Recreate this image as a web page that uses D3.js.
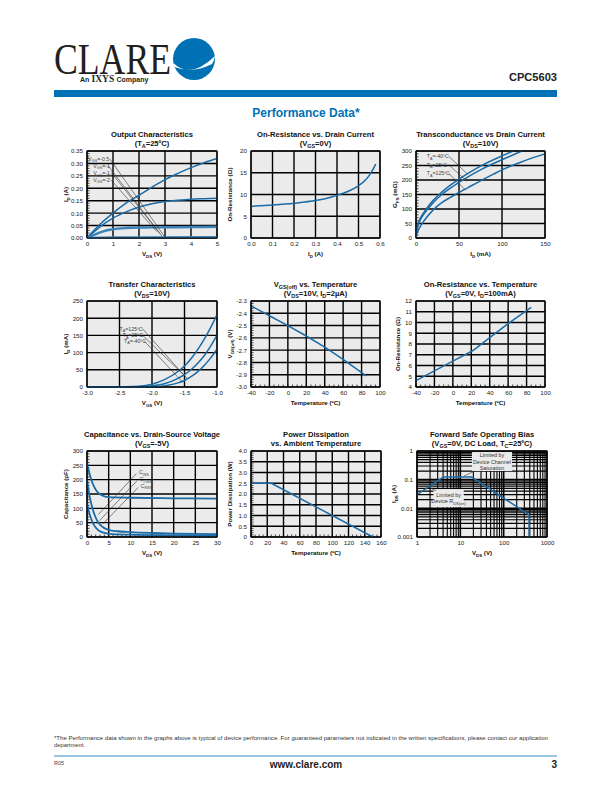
<!DOCTYPE html>
<html><head><meta charset="utf-8">
<script src="https://cdn.jsdelivr.net/npm/d3@7"></script>
<style>body{margin:0;background:#fff}svg{display:block}</style>
</head><body><svg id="c" width="612" height="792" font-family="Arial, 'Liberation Sans', Helvetica, sans-serif"></svg>
<script>
// ================= DATA =================
// 1. Output characteristics
const outXTicks=[0,1,2,3,4,5];
const outYTicks=[0,0.05,0.10,0.15,0.20,0.25,0.30,0.35];
const outYLabels=["0.00","0.05","0.10","0.15","0.20","0.25","0.30","0.35"];
const outVgsM05=[[0,0],[0.5,0.055],[1,0.1],[1.5,0.14],[2,0.172],[2.5,0.205],[3,0.235],[3.5,0.26],[4,0.283],[4.5,0.303],[5,0.32]];
const outVgsM1=[[0,0],[0.5,0.045],[1,0.08],[1.5,0.105],[2,0.125],[2.5,0.138],[3,0.147],[3.5,0.152],[4,0.156],[4.5,0.158],[5,0.16]];
const outVgsM15=[[0,0],[0.3,0.014],[0.6,0.026],[1,0.035],[1.5,0.04],[2,0.042],[3,0.043],[4,0.044],[5,0.045]];
const outVgsM2=[[0,0],[0.5,0.002],[1,0.003],[2,0.003],[5,0.004]];
const outLabels=["V_{GS}=-0.5","V_{GS}=-1","V_{GS}=-1.5","V_{GS}=-2"];
// 2. On-resistance vs drain current
const ronIXTicks=[0,0.1,0.2,0.3,0.4,0.5,0.6];
const ronIXLabels=["0.0","0.1","0.2","0.3","0.4","0.5","0.6"];
const ronIYTicks=[0,5,10,15,20];
const ronI=[[0,7.3],[0.1,7.6],[0.2,8.0],[0.3,8.6],[0.35,9.1],[0.4,9.8],[0.45,10.7],[0.5,12.0],[0.53,13.2],[0.55,14.4],[0.57,16.0],[0.58,17.0]];
// 3. Transconductance
const gfsXTicks=[0,50,100,150];
const gfsYTicks=[0,50,100,150,200,250,300];
const gfsM40=[[0,10],[2,45],[5,68],[10,92],[20,130],[30,158],[40,182],[50,203],[60,222],[75,248],[90,270],[100,283],[113,300]];
const gfs25=[[0,10],[2,40],[5,62],[10,86],[20,122],[30,150],[40,172],[50,192],[60,210],[75,235],[90,257],[100,270],[123,300]];
const gfs125=[[0,5],[2,22],[5,40],[10,62],[20,97],[30,122],[40,140],[50,157],[60,173],[75,197],[90,220],[100,235],[125,265],[150,290]];
const gfsLabels=["T_{A}=-40ºC","T_{A}=25ºC","T_{A}=125ºC"];
// 4. Transfer characteristics
const trXTicks=[-3,-2.5,-2,-1.5,-1];
const trXLabels=["-3.0","-2.5","-2.0","-1.5","-1.0"];
const trYTicks=[0,50,100,150,200,250];
const tr125=[[-3,0],[-2.4,0.5],[-2.2,2],[-2.0,8],[-1.8,22],[-1.6,45],[-1.5,61],[-1.4,82],[-1.3,108],[-1.2,138],[-1.1,172],[-1.0,210]];
const tr25=[[-3,0],[-2.2,0.5],[-2.0,3],[-1.8,10],[-1.6,25],[-1.5,36],[-1.4,50],[-1.3,68],[-1.2,90],[-1.1,118],[-1.0,150]];
const trM40=[[-3,0],[-2.0,0.5],[-1.8,4],[-1.6,12],[-1.5,19],[-1.4,30],[-1.3,44],[-1.2,62],[-1.1,84],[-1.0,110]];
const trLabels=["T_{A}=125ºC","T_{A}=25ºC","T_{A}=-40ºC"];
// 5. VGS(off) vs temperature
const tempXTicks=[-40,-20,0,20,40,60,80,100];
const voffYTicks=[-3.0,-2.9,-2.8,-2.7,-2.6,-2.5,-2.4,-2.3];
const voffYLabels=["-3.0","-2.9","-2.8","-2.7","-2.6","-2.5","-2.4","-2.3"];
const voff=[[-40,-2.34],[-20,-2.42],[0,-2.50],[20,-2.585],[40,-2.675],[60,-2.775],[85,-2.91]];
// 6. On-resistance vs temperature
const ronTYTicks=[4,5,6,7,8,9,10,11,12];
const ronT=[[-40,4.6],[-20,5.5],[0,6.4],[20,7.3],[25,7.6],[40,8.6],[60,9.9],[85,11.4]];
// 7. Capacitance
const capXTicks=[0,5,10,15,20,25,30];
const capYTicks=[0,50,100,150,200,250,300];
const cIss=[[0,260],[0.5,225],[1,200],[1.5,180],[2,166],[2.5,156],[3,149],[4,142],[5,139],[10,137],[20,135],[30,134]];
const cOss=[[0,200],[0.5,150],[1,115],[1.5,88],[2,68],[2.5,53],[3,43],[4,31],[5,25],[7,20],[10,17],[15,14],[20,12],[30,10]];
const cRss=[[0,120],[0.5,85],[1,62],[1.5,45],[2,33],[2.5,25],[3,20],[4,14],[5,11],[10,8],[20,6],[30,5]];
const capLabels=["C_{ISS}","C_{OSS}","C_{RSS}"];
// 8. Power dissipation
const pdXTicks=[0,20,40,60,80,100,120,140,160];
const pdYTicks=[0,0.5,1.0,1.5,2.0,2.5,3.0,3.5,4.0];
const pdYLabels=["0","0.5","1.0","1.5","2.0","2.5","3.0","3.5","4.0"];
const pd=[[0,2.5],[25,2.5],[150,0]];
// 9. Forward safe operating bias
const fsXTicks=[1,10,100,1000];
const fsXLabels=["1","10","100","1000"];
const fsYTicks=[0.001,0.01,0.1,1];
const fsYLabels=["0.001","0.01","0.1","1"];
const fsoa=[[1,0.03],[4.1,0.125],[18,0.125],[365,0.0063],[385,0.006],[385,0.001]];
const fsBox1=["Limited by","Device Channel","Saturation"];
const fsBox2=["Limited by","Device R_{DS(on)}"];

// ================= DRAWING =================
const svg=d3.select('#c');
const BG='#ebebeb', INK='#1a1a1a', BLUE='#1b6ba6', HBLUE='#0071b5';
const SERIF='"Liberation Serif", "Times New Roman", Times, serif';

function rich(t,str,sub){
  const parts=str.split(/(_\{[^}]*\})/).filter(s=>s.length);
  let down=false; const off=sub*0.4;
  for(const p of parts){
    if(p.startsWith('_{')){t.append('tspan').attr('font-size',sub).attr('dy',down?0:off).text(p.slice(2,-1));down=true;}
    else{t.append('tspan').attr('dy',down?-off:0).text(p);down=false;}
  }
  return t;
}

function panel(o){
  const g=svg.append('g').attr('transform',`translate(${o.left},${o.top})`);
  const x=o.x.range([0,o.w]), y=o.y.range([o.h,0]);
  g.append('rect').attr('width',o.w).attr('height',o.h).attr('fill',BG);
  const gx=o.gridX||o.xTicks, gy=o.gridY||o.yTicks;
  g.append('g').selectAll('line').data(gx).join('line')
    .attr('x1',d=>x(d)).attr('x2',d=>x(d)).attr('y1',0).attr('y2',o.h)
    .attr('stroke','#000').attr('stroke-width',d=>o.gridWX?o.gridWX(d):1.4);
  g.append('g').selectAll('line').data(gy).join('line')
    .attr('y1',d=>y(d)).attr('y2',d=>y(d)).attr('x1',0).attr('x2',o.w)
    .attr('stroke','#000').attr('stroke-width',d=>o.gridWY?o.gridWY(d):1.4);
  if(o.minorY) g.append('g').selectAll('line').data(o.minorY).join('line')
    .attr('y1',d=>y(d)).attr('y2',d=>y(d)).attr('x1',0).attr('x2',2.5).attr('stroke','#000').attr('stroke-width',0.7);
  if(o.minorX) g.append('g').selectAll('line').data(o.minorX).join('line')
    .attr('x1',d=>x(d)).attr('x2',d=>x(d)).attr('y1',o.h).attr('y2',o.h-2.5).attr('stroke','#000').attr('stroke-width',0.7);
  (o.boxes||[]).forEach(b=>{
    g.append('rect').attr('x',x(b.x0)).attr('y',y(b.y1)).attr('width',x(b.x1)-x(b.x0)).attr('height',y(b.y0)-y(b.y1)).attr('fill',BG);
    const cx=(x(b.x0)+x(b.x1))/2, n=b.lines.length, cy=(y(b.y0)+y(b.y1))/2;
    b.lines.forEach((l,i)=>{
      const t=g.append('text').attr('x',cx).attr('y',cy+(i-(n-1)/2)*6.3+2).attr('text-anchor','middle').attr('font-size',5.4).attr('fill','#333');
      rich(t,l,4);
    });
  });
  o.series.forEach(s=>{
    g.append('path').datum(s.data)
      .attr('d',d3.line().x(d=>x(d[0])).y(d=>y(d[1])).curve(s.curve||d3.curveMonotoneX))
      .attr('fill','none').attr('stroke',s.color||BLUE).attr('stroke-width',s.width||1.5).attr('stroke-linejoin','round');
  });
  (o.leaders||[]).forEach(l=>{
    g.append('line').attr('x1',x(l[0])).attr('y1',y(l[1])).attr('x2',x(l[2])).attr('y2',y(l[3])).attr('stroke','#333').attr('stroke-width',0.6);
  });
  (o.labels||[]).forEach(l=>{
    const t=g.append('text').attr('x',x(l.x)).attr('y',y(l.y)+2).attr('font-size',5.2).attr('fill','#444').attr('text-anchor',l.anchor||'start');
    rich(t,l.text,3.8);
  });
  g.append('rect').attr('width',o.w).attr('height',o.h).attr('fill','none').attr('stroke','#000').attr('stroke-width',1);
  const ax=g.append('g').attr('transform',`translate(0,${o.h})`)
    .call(d3.axisBottom(x).tickValues(o.xTicks).tickFormat((d,i)=>o.xLabels?o.xLabels[i]:String(d)).tickSize(0).tickPadding(4));
  ax.select('.domain').remove();
  ax.attr('font-family',null);
  ax.selectAll('text').attr('font-size',6.2).attr('fill',INK);
  const ay=g.append('g')
    .call(d3.axisLeft(y).tickValues(o.yTicks).tickFormat((d,i)=>o.yLabels?o.yLabels[i]:String(d)).tickSize(0).tickPadding(4));
  ay.select('.domain').remove();
  ay.attr('font-family',null);
  ay.selectAll('text').attr('font-size',6.2).attr('fill',INK);
  const t1=g.append('text').attr('x',o.w/2).attr('y',-14).attr('text-anchor','middle').attr('font-weight','bold').attr('font-size',7.6).attr('fill','#111');
  rich(t1,o.title[0],5.4);
  const t2=g.append('text').attr('x',o.w/2).attr('y',-4.8).attr('text-anchor','middle').attr('font-weight','bold').attr('font-size',7.6).attr('fill','#111');
  rich(t2,o.title[1],5.4);
  const xt=g.append('text').attr('x',o.w/2).attr('y',o.h+18).attr('text-anchor','middle').attr('font-weight','bold').attr('font-size',6.2).attr('fill','#111');
  rich(xt,o.xTitle,4.4);
  const yt=g.append('text').attr('transform',`translate(${o.yTitleX||-19},${o.h/2}) rotate(-90)`).attr('text-anchor','middle').attr('font-weight','bold').attr('font-size',6.2).attr('fill','#111');
  rich(yt,o.yTitle,4.4);
}

const COL=[87,251,416], ROW=[151,301,451], PW=130, PH=86;
const stepRange=(a,b,s)=>d3.range(Math.round((b-a)/s)+1).map(i=>a+i*s);

panel({left:COL[0],top:ROW[0],w:PW,h:PH+1,
  x:d3.scaleLinear().domain([0,5]),y:d3.scaleLinear().domain([0,0.35]),
  xTicks:outXTicks,yTicks:outYTicks,yLabels:outYLabels,minorY:stepRange(0,0.35,0.01),
  title:["Output Characteristics","(T_{A}=25ºC)"],xTitle:"V_{DS} (V)",yTitle:"I_{D} (A)",
  series:[{data:outVgsM05},{data:outVgsM1},{data:outVgsM15,width:2.4,color:'#3b82b8'},{data:outVgsM2,width:2.2,color:'#3b82b8'}],
  leaders:[[0.88,0.318,3.02,0.0],[0.82,0.29,2.88,0.008],[0.95,0.261,2.8,0.018],[0.92,0.234,2.68,0.026]],
  labels:[{x:0.05,y:0.318,text:outLabels[0]},{x:0.24,y:0.29,text:outLabels[1]},{x:0.24,y:0.261,text:outLabels[2]},{x:0.24,y:0.234,text:outLabels[3]}]
});
panel({left:COL[1],top:ROW[0],w:PW-1,h:PH+1,
  x:d3.scaleLinear().domain([0,0.6]),y:d3.scaleLinear().domain([0,20]),
  xTicks:ronIXTicks,xLabels:ronIXLabels,yTicks:ronIYTicks,
  title:["On-Resistance vs. Drain Current","(V_{GS}=0V)"],xTitle:"I_{D} (A)",yTitle:"On-Resistance (Ω)",
  series:[{data:ronI}]
});
panel({left:COL[2],top:ROW[0],w:PW-1,h:PH+1,
  x:d3.scaleLinear().domain([0,150]),y:d3.scaleLinear().domain([0,300]),
  xTicks:gfsXTicks,yTicks:gfsYTicks,minorY:stepRange(0,300,10),
  title:["Transconductance vs Drain Current","(V_{DS}=10V)"],xTitle:"I_{D} (mA)",yTitle:"G_{FS} (mΩ)",
  series:[{data:gfsM40},{data:gfs25},{data:gfs125}],
  leaders:[[38,282,60,220],[38,253,59,196],[38,223,57,167]],
  labels:[{x:12.5,y:282,text:gfsLabels[0]},{x:12.5,y:253,text:gfsLabels[1]},{x:12.5,y:223,text:gfsLabels[2]}]
});
panel({left:COL[0],top:ROW[1],w:PW,h:PH,
  x:d3.scaleLinear().domain([-3,-1]),y:d3.scaleLinear().domain([0,250]),
  xTicks:trXTicks,xLabels:trXLabels,yTicks:trYTicks,
  title:["Transfer Characteristics","(V_{DS}=10V)"],xTitle:"V_{GS} (V)",yTitle:"I_{D} (mA)",
  series:[{data:tr125},{data:tr25},{data:trM40}],
  leaders:[[-2.15,170,-1.52,37],[-2.15,151,-1.45,24],[-2.12,134,-1.53,14]],
  labels:[{x:-2.5,y:170,text:trLabels[0]},{x:-2.45,y:151,text:trLabels[1]},{x:-2.43,y:134,text:trLabels[2]}]
});
panel({left:COL[1],top:ROW[1],w:PW-1,h:PH,
  x:d3.scaleLinear().domain([-40,100]),y:d3.scaleLinear().domain([-3.0,-2.3]),
  xTicks:tempXTicks,yTicks:voffYTicks,yLabels:voffYLabels,minorY:stepRange(-3.0,-2.3,0.02),minorX:stepRange(-40,100,5),
  title:["V_{GS(off)} vs. Temperature","(V_{DS}=10V, I_{D}=2µA)"],xTitle:"Temperature (ºC)",yTitle:"V_{GS(off)} (V)",
  series:[{data:voff,curve:d3.curveLinear}]
});
panel({left:COL[2],top:ROW[1],w:PW-1,h:PH,
  x:d3.scaleLinear().domain([-40,100]),y:d3.scaleLinear().domain([4,12]),
  xTicks:tempXTicks,yTicks:ronTYTicks,minorX:stepRange(-40,100,5),
  title:["On-Resistance vs. Temperature","(V_{GS}=0V, I_{D}=100mA)"],xTitle:"Temperature (ºC)",yTitle:"On-Resistance (Ω)",yTitleX:-16,
  series:[{data:ronT,curve:d3.curveLinear}]
});
panel({left:COL[0],top:ROW[2],w:PW,h:PH,
  x:d3.scaleLinear().domain([0,30]),y:d3.scaleLinear().domain([0,300]),
  xTicks:capXTicks,yTicks:capYTicks,minorY:stepRange(0,300,10),minorX:stepRange(0,30,1),
  title:["Capacitance vs. Drain-Source Voltage","(V_{GS}=-5V)"],xTitle:"V_{DS} (V)",yTitle:"Capacitance (pF)",
  series:[{data:cIss,width:1.8},{data:cOss,width:1.8},{data:cRss,width:1.8}],
  leaders:[[11.4,221,2.6,78],[11.6,197,2.9,57],[11.8,173,3.6,45]],
  labels:[{x:12.0,y:226,text:capLabels[0]},{x:12.2,y:202,text:capLabels[1]},{x:12.4,y:178,text:capLabels[2]}]
});
panel({left:COL[1],top:ROW[2],w:PW,h:PH,
  x:d3.scaleLinear().domain([0,160]),y:d3.scaleLinear().domain([0,4]),
  xTicks:pdXTicks,yTicks:pdYTicks,yLabels:pdYLabels,minorX:stepRange(0,160,5),minorY:stepRange(0,4,0.1),
  title:["Power Dissipation","vs. Ambient Temperature"],xTitle:"Temperature (ºC)",yTitle:"Power Dissipation (W)",
  series:[{data:pd,curve:d3.curveLinear}]
});
const fsX=d3.scaleLog().domain([1,1000]), fsY=d3.scaleLog().domain([0.001,1]);
panel({left:COL[2]+1,top:ROW[2],w:PW,h:PH,
  x:fsX,y:fsY,
  xTicks:fsXTicks,xLabels:fsXLabels,yTicks:fsYTicks,yLabels:fsYLabels,
  gridX:fsX.ticks(),gridY:fsY.ticks(),
  gridWX:d=>fsXTicks.includes(d)?1.6:1.1,gridWY:d=>fsYTicks.includes(d)?1.6:1.2,
  boxes:[{x0:18.5,x1:156,y0:0.2,y1:0.92,lines:fsBox1},{x0:2.4,x1:12,y0:0.011,y1:0.047,lines:fsBox2}],
  title:["Forward Safe Operating Bias","(V_{GS}=0V, DC Load, T_{C}=25ºC)"],xTitle:"V_{DS} (V)",yTitle:"I_{DS} (A)",yTitleX:-21,
  series:[{data:fsoa,curve:d3.curveLinear}],
  leaders:[[21.5,0.2,12,0.132],[2.75,0.041,1.75,0.058]]
});

// ================= HEADER / FOOTER =================
svg.append('text').attr('x',54).attr('y',74).attr('font-family',SERIF)
  .attr('font-size',44).attr('textLength',117).attr('lengthAdjust','spacingAndGlyphs').attr('fill','#231f20').text('CLARE');
svg.append('circle').attr('cx',194).attr('cy',59).attr('r',21).attr('fill',HBLUE);
svg.append('path').attr('d','M173.5,63 Q190,80 215,56 Q214,61 212,64 Q192,74 174.5,67 Z').attr('fill','#fff');
// "An IXYS Company" as separate text pieces placed side by side
let cx0=80;
[["An",7,null],["IXYS",9.5,SERIF],["Company",7,null]].forEach(([s,fs,ff])=>{
  const t=svg.append('text').attr('x',cx0).attr('y',81.5).attr('fill','#231f20').attr('font-weight','bold').attr('font-size',fs).text(s);
  if(ff) t.attr('font-family',ff);
  cx0+=t.node().getComputedTextLength()+2.2;
});
svg.append('text').attr('x',557).attr('y',81).attr('text-anchor','end').attr('font-weight','bold').attr('font-size',11.5)
  .attr('textLength',48).attr('lengthAdjust','spacingAndGlyphs').attr('fill','#222').text('CPC5603');
svg.append('rect').attr('x',54).attr('y',90).attr('width',503).attr('height',7).attr('fill',HBLUE);
svg.append('text').attr('x',306).attr('y',117).attr('text-anchor','middle').attr('font-weight','bold').attr('font-size',12).attr('fill',HBLUE).text('Performance Data*');

svg.append('text').attr('x',54).attr('y',740).attr('font-size',5.8).attr('fill','#333')
  .attr('textLength',494).attr('lengthAdjust','spacingAndGlyphs')
  .text('*The Performance data shown in the graphs above is typical of device performance.  For guaranteed parameters not indicated in the written specifications, please contact our application');
svg.append('text').attr('x',54).attr('y',747).attr('font-size',5.8).attr('fill','#333').text('department.');
svg.append('line').attr('x1',54).attr('x2',557).attr('y1',756).attr('y2',756).attr('stroke',HBLUE).attr('stroke-width',0.8);
svg.append('text').attr('x',54).attr('y',765).attr('font-size',5.5).attr('fill','#444').text('R05');
svg.append('text').attr('x',306).attr('y',768).attr('text-anchor','middle').attr('font-weight','bold').attr('font-size',10).attr('fill','#222').text('www.clare.com');
svg.append('text').attr('x',557).attr('y',768).attr('text-anchor','end').attr('font-weight','bold').attr('font-size',10).attr('fill','#222').text('3');
</script></body></html>
